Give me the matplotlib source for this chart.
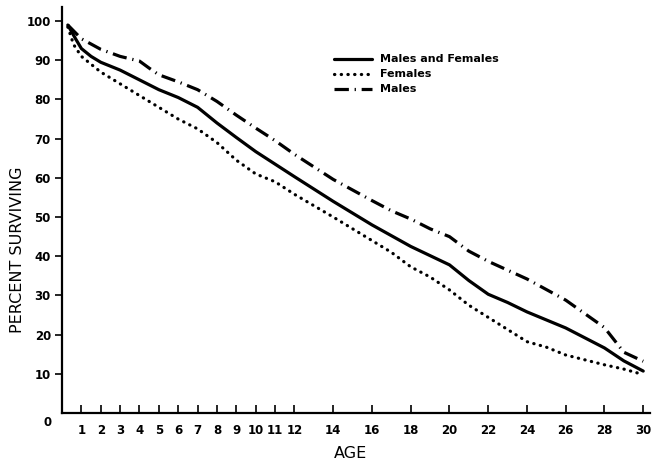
import matplotlib
matplotlib.use("Agg")
import matplotlib.pyplot as plt

ages_both = [0.3, 0.7, 1, 1.5, 2, 3, 4, 5, 6, 7, 8, 9, 10, 11, 12, 14, 16, 18, 20, 21, 22, 23, 24, 26, 28, 29, 30]
both = [99, 95.5, 93, 91, 89.5, 87.5, 85, 82.5, 80.5, 78, 74, 70.3, 66.7, 63.5, 60.3, 54, 48, 42.5, 37.8, 33.8, 30.3, 28.2, 25.8, 21.7, 16.6, 13.3, 10.7]

ages_fem = [0.3, 0.6, 1, 2, 3, 4, 5, 6, 7, 8, 9, 10, 11, 12, 14, 16, 17, 18, 19, 20, 21, 22, 24, 25, 26, 28, 29, 30]
females = [98.5, 94, 91, 87, 84, 81, 78, 75, 72.5, 69, 64.5, 61, 59, 55.8, 50, 44, 41, 37.3, 34.7, 31.4, 27.5, 24.4, 18.2, 16.8, 14.8, 12.3, 11.2, 9.8]

ages_male = [0.3, 0.7, 1, 2, 3, 4, 4.5, 5, 6, 7, 8, 9, 10, 11, 12, 14, 16, 17, 18, 19, 20, 21, 22, 24, 26, 28, 29, 30]
males = [99, 97, 95.5, 92.8, 91, 89.8, 88, 86.3, 84.5, 82.5, 79.5, 76, 72.7, 69.5, 66, 59.6, 54.2, 51.6, 49.5, 47, 45, 41.3, 38.7, 34.2, 28.8, 21.8, 15.5, 13.2]

xticks = [1, 2, 3, 4, 5, 6, 7, 8, 9, 10, 11, 12, 14, 16, 18, 20, 22, 24, 26, 28, 30]
yticks = [10, 20, 30, 40, 50, 60, 70, 80, 90, 100]

fig = plt.figure(figsize=(6.54, 4.65), dpi=100)
ax = fig.add_axes([62/654, 52/465, 588/654, 406/465])
ax.set_xlim(0, 30.35)
ax.set_ylim(0, 103.6)

lw = 2.3
ax.plot(ages_both, both, color="black", lw=lw, solid_capstyle="round", label="Males and Females")
ax.plot(ages_fem, females, color="black", lw=lw, linestyle=(0, (0.1, 2.0)), dash_capstyle="round", label="Females")
ax.plot(ages_male, males, color="black", lw=lw, linestyle=(0, (4.5, 1.8, 0.4, 1.8)), dash_capstyle="butt", label="Males")

for s in ["top", "right"]:
    ax.spines[s].set_visible(False)
for s in ["left", "bottom"]:
    ax.spines[s].set_linewidth(1.6)

ax.set_xticks(xticks)
ax.set_xticklabels([str(t) for t in xticks], fontsize=8.5, fontweight="bold")
ax.set_yticks(yticks)
ax.set_yticklabels([str(t) for t in yticks], fontsize=8.5, fontweight="bold")
ax.tick_params(axis="x", direction="in", length=6, width=1.2, pad=8)
ax.tick_params(axis="y", direction="out", length=5, width=1.2, pad=3)

ax.text(-0.55, -2.3, "0", fontsize=8.5, fontweight="bold", ha="right", va="center", clip_on=False)

ax.set_xlabel("AGE", fontsize=11.5, va="center")
ax.xaxis.set_label_coords((350-62)/588, -(453-413)/406)
ax.set_ylabel("PERCENT SURVIVING", fontsize=11.5, va="center", ha="center")
ax.yaxis.set_label_coords(-(62-18)/588, (413-250)/406)

leg = ax.legend(loc="upper left", bbox_to_anchor=((330-62)/588, 1-(50-7)/406), frameon=False,
                prop={"weight": "bold", "size": 8}, handlelength=3.4, handletextpad=0.7,
                labelspacing=0.45, borderaxespad=0)

fig.savefig("out.png", dpi=100)
